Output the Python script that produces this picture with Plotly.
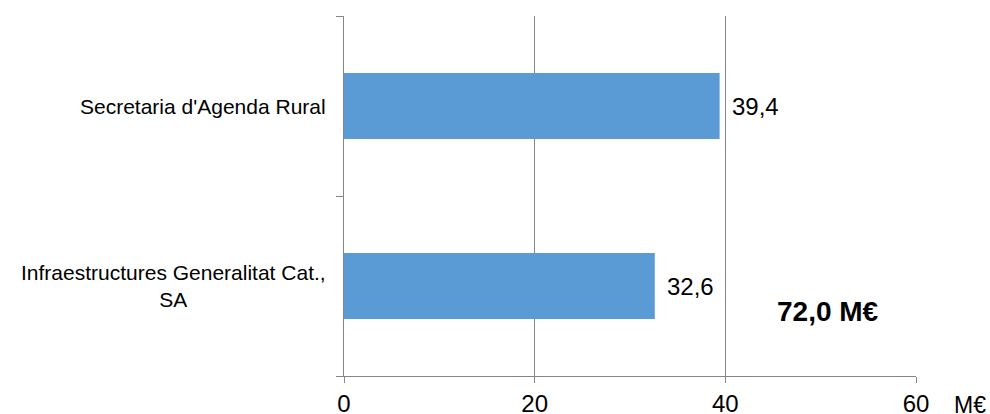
import plotly.graph_objects as go

categories = ["Infraestructures Generalitat Cat.,<br>SA", "Secretaria d'Agenda Rural"]
values = [32.6, 39.4]
x_ticks = [0, 20, 40, 60]
total_label = "72,0 M€"
unit_label = "M€"

FONT = "Liberation Sans, Arial, sans-serif"
GRAY = "#868686"

fig = go.Figure()
fig.add_trace(go.Bar(
    y=categories, x=values, orientation="h",
    marker=dict(color="#5B9BD5", line=dict(width=0)),
    width=0.367, hoverinfo="skip",
))

for c, v in zip(categories, values):
    fig.add_annotation(x=v, y=c, xref="x", yref="y", text=f"{v:.1f}".replace(".", ","),
                       showarrow=False, xanchor="left", xshift=10,
                       font=dict(family=FONT, size=24, color="#000000"))
    fig.add_annotation(x=0, y=c, xref="paper", yref="y", text=c, showarrow=False,
                       xanchor="right", align="center", xshift=-16,
                       font=dict(family=FONT, size=21, color="#000000"))

fig.add_annotation(x=50.8, y=-0.14, xref="x", yref="y", text=f"<b>{total_label}</b>",
                   showarrow=False, font=dict(family=FONT, size=28, color="#000000"))
fig.add_annotation(x=1.063, y=0, xref="paper", yref="paper", text=unit_label,
                   showarrow=False, xanchor="left", yanchor="middle", yshift=-29,
                   font=dict(family=FONT, size=23, color="#000000"))

fig.update_layout(
    width=990, height=414,
    margin=dict(l=344, r=74, t=16, b=38, autoexpand=False),
    paper_bgcolor="white", plot_bgcolor="white",
    showlegend=False,
    xaxis=dict(range=[0, 60], tickvals=x_ticks, showgrid=True, gridcolor=GRAY, gridwidth=1,
               showline=True, linecolor=GRAY, linewidth=1, ticks="outside", ticklen=6,
               tickcolor=GRAY, zeroline=False, automargin=False,
               tickfont=dict(family=FONT, size=24, color="#000000")),
    yaxis=dict(type="category", range=[-0.5, 1.5], showgrid=False, showline=True,
               linecolor=GRAY, linewidth=1, ticks="outside", ticklen=7, tickcolor=GRAY,
               tickson="boundaries", showticklabels=False, zeroline=False, automargin=False),
)

fig.write_html("out.html", config={"displayModeBar": False},
               post_script="document.body.style.margin='0';")
